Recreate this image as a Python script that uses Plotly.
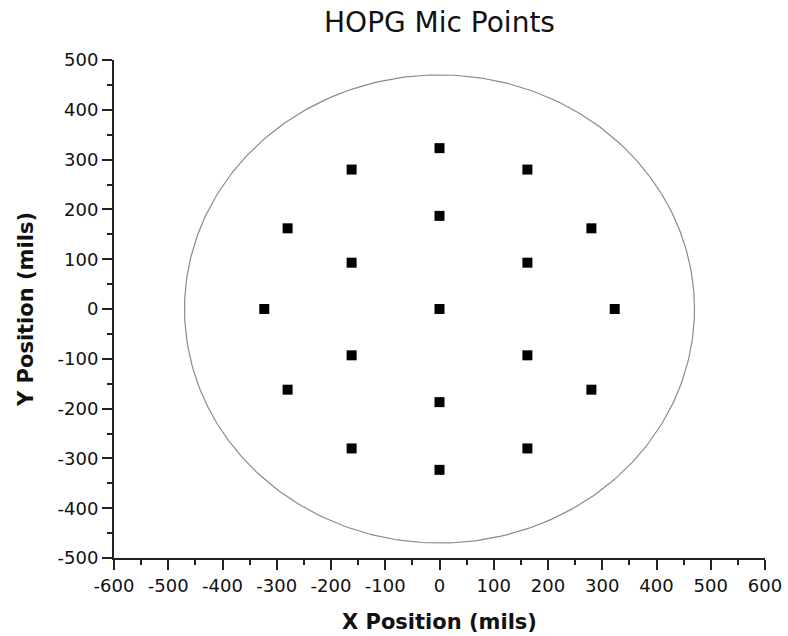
import numpy as np
import plotly.graph_objects as go

# Measurement point positions (mils)
point_x = [0, 0, 0, 162, 162, -162, -162,
           0, 0, 162, 162, -162, -162, 280, 280, -280, -280, 323, -323]
point_y = [0, 187, -187, 93, -93, 93, -93,
           323, -323, 280, -280, 280, -280, 162, -162, 162, -162, 0, 0]

# Sample outline radius (mils)
sample_radius = 470

x_ticks = [-600, -500, -400, -300, -200, -100, 0, 100, 200, 300, 400, 500, 600]
x_tick_labels = ["-600", "-500", "-400", "-300", "-200", "-100", "0",
                 "100", "200", "300", "400", "500", "600"]
y_ticks = [-500, -400, -300, -200, -100, 0, 100, 200, 300, 400, 500]
y_tick_labels = ["-500", "-400", "-300", "-200", "-100", "0",
                 "100", "200", "300", "400", "500"]

theta = np.linspace(0, 2 * np.pi, 361)
circle_x = sample_radius * np.cos(theta)
circle_y = sample_radius * np.sin(theta)

fig = go.Figure()
fig.add_trace(go.Scatter(
    x=circle_x, y=circle_y, mode="lines",
    line=dict(color="#8a8a8a", width=1.2),
    hoverinfo="skip", showlegend=False,
))
fig.add_trace(go.Scatter(
    x=point_x, y=point_y, mode="markers",
    marker=dict(symbol="square", size=10, color="black"),
    showlegend=False,
))

font_family = "DejaVu Sans, Arial, sans-serif"
axis_common = dict(
    showgrid=False, zeroline=False, automargin=False,
    showline=True, linecolor="#222", linewidth=2,
    ticks="outside", ticklen=10, tickwidth=2, tickcolor="#222",
    tickfont=dict(family=font_family, size=18, color="#111"),
    minor=dict(ticks="outside", ticklen=5, tickwidth=2, tickcolor="#222", dtick=50),
    mirror=False,
)

fig.update_layout(
    width=788, height=636,
    margin=dict(l=114, r=23, t=60, b=78),
    paper_bgcolor="white", plot_bgcolor="white",
    title=dict(text="HOPG Mic Points", x=(114 + 765) / 2 / 788, xanchor="center",
               y=1 - 22 / 636, yanchor="middle",
               font=dict(family=font_family, size=28, color="#111")),
    xaxis=dict(range=[-600, 600], tickmode="array", tickvals=x_ticks, ticktext=x_tick_labels,
               title=dict(text="<b>X Position (mils)</b>", standoff=20,
                          font=dict(family=font_family, size=21, color="#111")),
               **axis_common),
    yaxis=dict(range=[-500, 500], tickmode="array", tickvals=y_ticks, ticktext=y_tick_labels,
               title=dict(text="<b>Y Position (mils)</b>", standoff=18,
                          font=dict(family=font_family, size=21, color="#111")),
               **axis_common),
)

fig.write_html("out.html")
